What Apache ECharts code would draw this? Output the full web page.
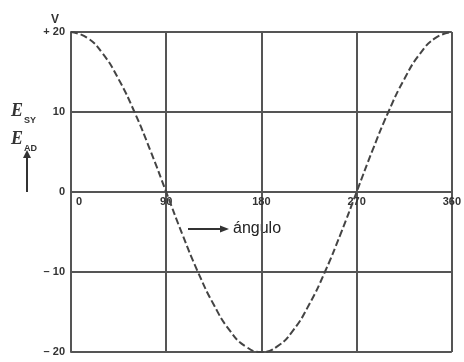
<!DOCTYPE html>
<html>
<head>
<meta charset="utf-8">
<script src="https://cdn.jsdelivr.net/npm/echarts@6/dist/echarts.min.js"></script>
<style>
  html, body { margin: 0; padding: 0; background: #fff; }
  #chart { width: 464px; height: 362px; }
</style>
</head>
<body>
<div id="chart"></div>
<script>
// Phase angle in degrees and the voltage read at each angle (V)
const angles = [0, 15, 30, 45, 60, 75, 90, 105, 120, 135, 150, 165, 180,
                195, 210, 225, 240, 255, 270, 285, 300, 315, 330, 345, 360];
const voltages = [20, 19.3, 17.3, 14.1, 10, 5.2, 0, -5.2, -10, -14.1, -17.3, -19.3, -20,
                  -19.3, -17.3, -14.1, -10, -5.2, 0, 5.2, 10, 14.1, 17.3, 19.3, 20];
const xTicks = [0, 90, 180, 270, 360];
const yTickLabels = { '20': '+ 20', '10': '10', '0': '0', '-10': '\u2013 10', '-20': '\u2013 20' };

const gridColor = '#555';
const plotHeight = 320;
const chart = echarts.init(document.getElementById('chart'), null, { renderer: 'canvas' });

chart.setOption({
  backgroundColor: '#fff',
  animation: false,
  grid: { left: 71, top: 32, width: 386, height: plotHeight },
  xAxis: {
    type: 'value', min: 0, max: 360, interval: 90,
    position: 'bottom',
    // the angle axis sits on the 0 V line, half way up the plot
    offset: -plotHeight / 2,
    axisLine: { onZero: false, lineStyle: { color: gridColor, width: 2 } },
    axisTick: { show: false },
    splitLine: { show: true, lineStyle: { color: gridColor, width: 2 } },
    axisLabel: {
      margin: 4,
      color: '#333', fontWeight: 'bold', fontSize: 11, fontFamily: 'Liberation Sans',
      customValues: xTicks,
      formatter: v => v === 0 ? '{z|0}' : String(v),
      rich: { z: { padding: [0, 0, 0, 16], color: '#333', fontWeight: 'bold', fontSize: 11 } }
    }
  },
  yAxis: {
    type: 'value', min: -20, max: 20, interval: 10,
    name: 'V', nameLocation: 'end', nameGap: 6,
    nameTextStyle: { color: '#333', fontWeight: 'bold', fontSize: 12, align: 'right', padding: [0, 12, 0, 0], fontFamily: 'Liberation Sans' },
    axisLine: { show: true, lineStyle: { color: gridColor, width: 2 } },
    axisTick: { show: false },
    splitLine: { show: true, lineStyle: { color: gridColor, width: 2 } },
    axisLabel: {
      margin: 6, color: '#333', fontWeight: 'bold', fontSize: 11, fontFamily: 'Liberation Sans',
      formatter: v => yTickLabels[String(v)]
    }
  },
  series: [{
    type: 'line',
    data: angles.map((a, i) => [a, voltages[i]]),
    smooth: true,
    showSymbol: false,
    lineStyle: { color: '#444', width: 2, type: [7, 3] }
  }],
  graphic: [
    {
      type: 'text', left: 11, top: 102,
      style: {
        text: '{e|E}{s|SY}\n{e|E}{s|AD}',
        rich: {
          e: { fontFamily: 'Liberation Serif', fontStyle: 'italic', fontWeight: 'bold', fontSize: 18, fill: '#333', lineHeight: 28 },
          s: { fontFamily: 'Liberation Sans', fontWeight: 'bold', fontSize: 9, fill: '#333', verticalAlign: 'bottom', padding: [4, 0, 0, 1] }
        }
      }
    },
    { type: 'line', shape: { x1: 27, y1: 192, x2: 27, y2: 156 }, style: { stroke: '#333', lineWidth: 2 } },
    { type: 'polygon', shape: { points: [[23, 158], [31, 158], [27, 150]] }, style: { fill: '#333' } },
    { type: 'line', shape: { x1: 188, y1: 229, x2: 222, y2: 229 }, style: { stroke: '#333', lineWidth: 2 } },
    { type: 'polygon', shape: { points: [[220, 225.5], [220, 232.5], [229, 229]] }, style: { fill: '#333' } },
    {
      type: 'text', left: 233, top: 221,
      style: { text: 'ángulo', fontFamily: 'Liberation Sans', fontSize: 16, fill: '#222' }
    }
  ]
});
</script>
</body>
</html>
